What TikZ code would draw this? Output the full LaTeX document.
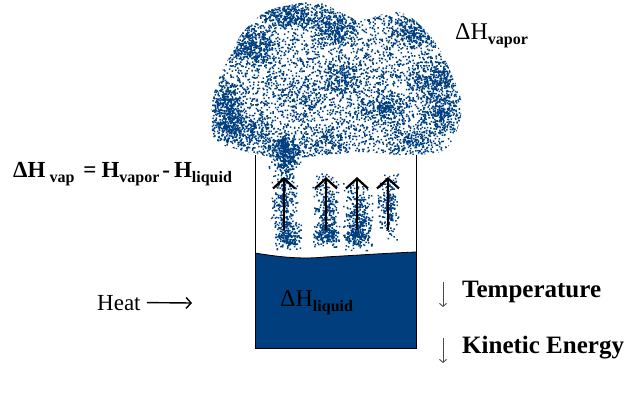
\documentclass[tikz,border=0pt]{standalone}
\usepackage{fontspec}
\setmainfont{Liberation Serif}
\usetikzlibrary{arrows.meta, positioning}
\definecolor{vaporblue}{RGB}{0,64,128}
\definecolor{liquidblue}{RGB}{0,62,125}
\newcommand{\lowtext}[1]{\raisebox{-5pt}{\fontsize{16}{16}\selectfont\bfseries #1}}

\begin{document}
\begin{tikzpicture}[x=1pt, y=-1pt,
    vapor/.style={fill=vaporblue},
    lbl/.style={anchor=base west, inner sep=0pt, font=\fontsize{24}{24}\selectfont},
    side/.style={anchor=base west, inner sep=0pt, font=\fontsize{25}{25}\selectfont\bfseries},
    riser/.style={line width=2.2pt, -{Straight Barb[length=10pt, width=22pt]}},
    drop/.style={line width=0.9pt, black!70, -{Straight Barb[length=3pt, width=7pt]}}]
    \useasboundingbox (0,0) rectangle (640,400);
    \pgfmathsetseed{7}

    % Cloud of vapor
    \begin{scope}
        \clip plot[smooth cycle] coordinates {(243,32) (265,12) (290,5) (317,2) (340,12) (360,20) (393,12) (412,18) (435,42) (452,75) (462,105) (455,135) (440,152) (400,155) (360,152) (320,156) (280,158) (240,150) (215,140) (211,110) (218,80) (232,52)};
        \fill[vapor] foreach \k in {1,...,3900} {({337+125*rand},{80+78*rand}) rectangle ++(1.5,1.5)};
        \foreach \cx/\cy/\rx/\ry/\n in {253/47/14/12/380, 290/15/16/8/300, 333/27/12/10/300, 413/32/14/10/300,
                435/80/16/12/380, 228/100/10/14/300, 228/125/10/10/220, 283/147/12/8/300, 383/107/14/10/220,
                343/77/12/10/180, 440/112/12/12/220, 305/100/14/12/150, 250/130/12/10/150, 410/140/14/8/180, 330/140/14/8/150}
            \fill[vapor] foreach \k in {1,...,\n} {({\cx+\rx*(rand+rand)},{\cy+\ry*(rand+rand)}) rectangle ++(1.5,1.5)};
    \end{scope}

    % Vapor rising in the beaker
    \foreach \cx/\cy/\rx/\ry/\n in {284/200/7/25/330, 284/160/8/6/150, 288/235/7/8/170,
            326/210/7/20/270, 326/235/8/6/150, 357/215/8/18/300, 357/235/8/6/150, 388/205/6/18/220}
        \fill[vapor] foreach \k in {1,...,\n} {({\cx+\rx*(rand+rand)},{\cy+\ry*(rand+rand)}) rectangle ++(1.5,1.5)};

    % Liquid and beaker
    \fill[liquidblue] (255,253) .. controls (285,258) and (305,259) .. (325,257) .. controls (360,255) and (390,253) .. (416,252) -- (416,348) -- (255,348) -- cycle;
    \draw[line width=0.8pt] (255,253) .. controls (285,258) and (305,259) .. (325,257) .. controls (360,255) and (390,253) .. (416,252);
    \draw[line width=1pt] (255,155) -- (255,348) -- (416,348) -- (416,155);

    % Rising arrows
    \foreach \ax [count=\i] in {284,326,357,388} {
        \coordinate (foot\i) at (\ax,230);
        \coordinate (tip\i) at (\ax,177);
        \draw[riser] (foot\i) -- (tip\i);
    }

    % Labels
    \node[lbl] (hvapor) at (455,39) {ΔH\lowtext{vapor}};
    \node[lbl, font=\fontsize{23}{23}\selectfont\bfseries] (formula) at (13,177)
        {ΔH\hspace{4pt}\lowtext{vap}\hspace{9pt}=\hspace{5pt}H\lowtext{vapor}\hspace{3pt}-\hspace{4pt}H\lowtext{liquid}};
    \node[lbl] (hliquid) at (280,306) {ΔH\lowtext{liquid}};
    \node[lbl, font=\fontsize{23}{23}\selectfont] (heat) at (97,310) {Heat};
    \coordinate (heatend) at (192,303);
    \draw[line width=1.4pt, -{Straight Barb[length=5pt, width=11pt]}] ([xshift=6pt]heat.east) -- (heatend);

    % Cooling effects
    \node[side] (temp) at (462,297) {Temperature};
    \node[side] (kinetic) at (462,353) {Kinetic Energy};
    \coordinate (temptop) at (443,282);
    \coordinate (tempbot) at (443,307);
    \coordinate (kintop) at (443,338);
    \coordinate (kinbot) at (443,363);
    \draw[drop] (temptop) -- (tempbot);
    \draw[drop] (kintop) -- (kinbot);
\end{tikzpicture}
\end{document}
